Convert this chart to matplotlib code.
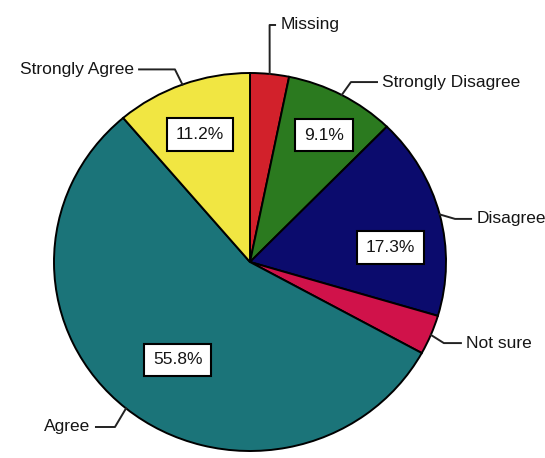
import numpy as np
import matplotlib
matplotlib.use('Agg')
import matplotlib.pyplot as plt

plt.rcParams['font.family'] = ['Liberation Sans', 'DejaVu Sans']

# response shares, clockwise from 12 o'clock
categories = ['Missing', 'Strongly Disagree', 'Disagree', 'Not sure', 'Agree', 'Strongly Agree']
shares = [3.2, 9.1, 17.3, 3.4, 55.8, 11.2]
colors = ['#d2212b', '#2b7a1f', '#0b0b6d', '#d0124a', '#1b7479', '#f1e642']
show_pct = [False, True, True, False, True, True]

# where each percent box sits: (angle offset from slice middle in degrees, radius)
pct_spot = [None, (-1.5, 0.77), (-8.5, 0.72), None, (3.8, 0.635), (0.5, 0.72)]

# outer label layout: (x of line end, y, side, length of flat part)
label_spot = [
    (0.128, 1.254, 1, 0.028),
    (0.648, 0.952, 1, 0.133),
    (1.128, 0.228, 1, 0.082),
    (1.076, -0.429, 1, 0.087),
    (-0.786, -0.873, -1, 0.097),
    (-0.566, 1.019, -1, 0.183),
]

fig = plt.figure(figsize=(5.45, 4.58), dpi=100)
ax = fig.add_axes([0, 0, 1, 1])

wedges, _ = ax.pie(shares, colors=colors, startangle=90, counterclock=False,
                   radius=1.0,
                   wedgeprops=dict(edgecolor='black', linewidth=1.4))

# slightly wider than tall, as the original oval
ax.set_aspect('auto')
ax.set_xlim(-250 / 196, 295 / 196)
ax.set_ylim(-196 / 189, 262 / 189)
ax.axis('off')

gap = 0.028
for w, name, val, show, spot, lab in zip(wedges, categories, shares, show_pct,
                                         pct_spot, label_spot):
    mid = np.deg2rad((w.theta1 + w.theta2) / 2)
    if show:
        a = mid + np.deg2rad(spot[0])
        ax.text(spot[1] * np.cos(a), spot[1] * np.sin(a), f'{val:.1f}%',
                ha='center', va='center', fontsize=12.5, color='#151515',
                bbox=dict(boxstyle='square,pad=0.5', facecolor='white',
                          edgecolor='black', linewidth=1.5))

    ex, ey = np.cos(mid), np.sin(mid)
    lx, ly, side, flat = lab
    ax.plot([ex, lx - side * flat, lx], [ey, ly, ly], color='#222222',
            linewidth=1.4, solid_joinstyle='round', clip_on=False)
    ax.text(lx + side * gap, ly, name, ha='left' if side > 0 else 'right',
            va='center', fontsize=12.5, color='#151515')

fig.savefig('out.png', dpi=100)
